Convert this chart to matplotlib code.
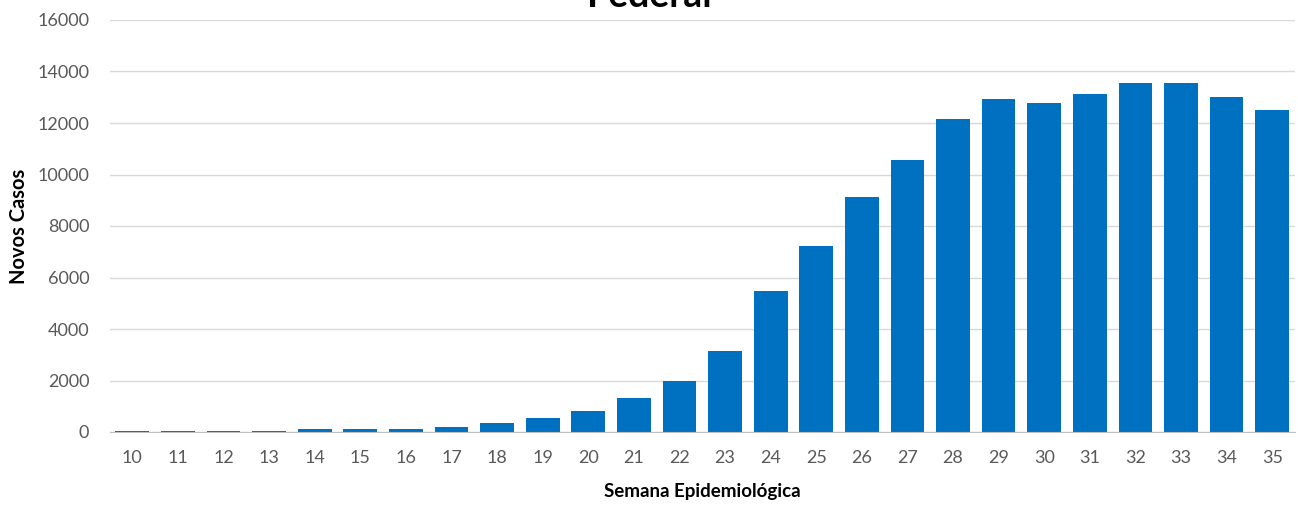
import matplotlib
matplotlib.use("Agg")
import matplotlib.pyplot as plt

weeks = [str(w) for w in range(10, 36)]
new_cases = [50, 50, 50, 50, 130, 130, 130, 210, 350, 540, 810, 1320, 2000, 3130,
             5490, 7210, 9110, 10550, 12160, 12920, 12780, 13140, 13550, 13550, 13000, 12490]
yticks = list(range(0, 16001, 2000))
title = "Federal"
xlabel = "Semana Epidemiológica"
ylabel = "Novos Casos"

plt.rcParams['font.family'] = ['Lato', 'DejaVu Sans']

fig = plt.figure(figsize=(12.98, 5.05), dpi=100)
ax = fig.add_axes([109.5/1298, 1-432/505, (1295-109.5)/1298, (432-20)/505])

x = list(range(len(weeks)))
ax.bar(x, new_cases, width=0.74, color='#0070C0', zorder=3)
ax.set_xlim(-0.5, len(weeks)-0.5)
ax.set_ylim(0, 16000)
ax.set_yticks(yticks)
ax.set_yticklabels([str(v) for v in yticks])
ax.set_xticks(x)
ax.set_xticklabels(weeks)
ax.tick_params(axis='both', length=0, labelsize=13, colors='#595959')
ax.tick_params(axis='x', pad=13)
ax.tick_params(axis='y', pad=14.5)
ax.grid(axis='y', color='#D9D9D9', linewidth=1, zorder=0)
for s in ['top', 'right', 'left']:
    ax.spines[s].set_visible(False)
ax.spines['bottom'].set_color('#BFBFBF')
ax.spines['bottom'].set_zorder(4)

ax.set_xlabel(xlabel, fontsize=13.5, fontweight='bold', color='black', labelpad=12)
ax.set_ylabel(ylabel, fontsize=14.5, fontweight='bold', color='black', labelpad=6)

fig.text(0.5, 1-7/505, title, ha='center', va='baseline', fontsize=27,
         fontweight='bold', color='black')

fig.savefig('out.png', dpi=100)
